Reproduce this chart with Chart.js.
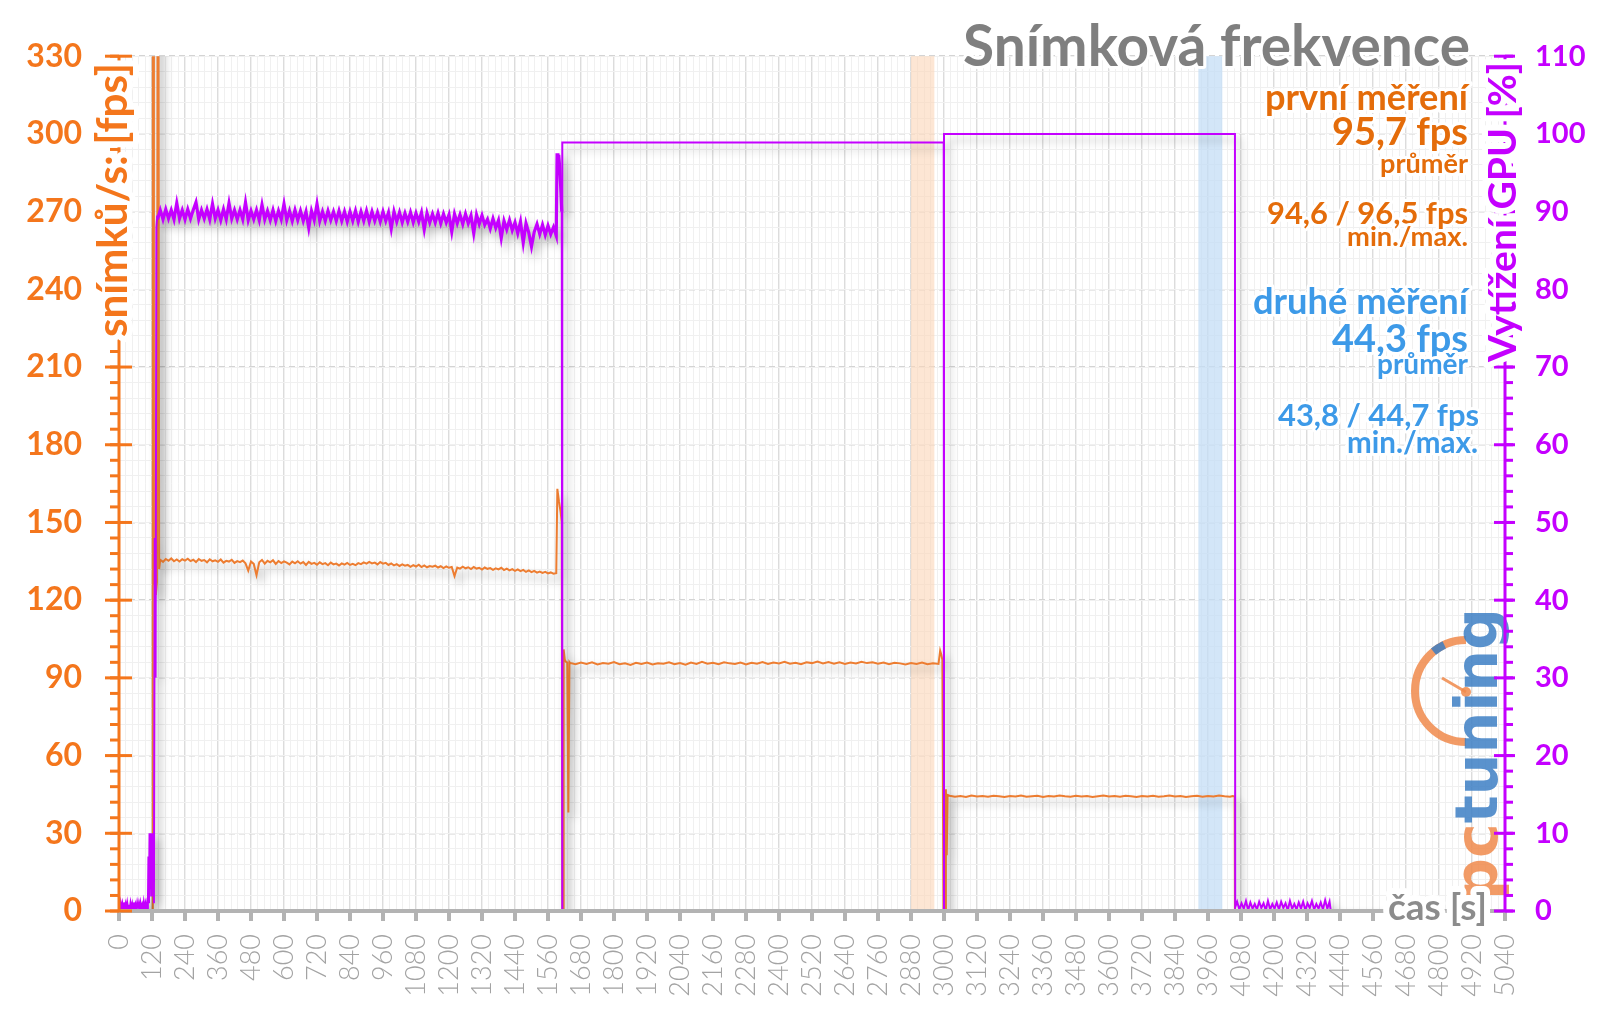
<!DOCTYPE html>
<html lang="cs">
<head>
<meta charset="utf-8">
<title>Snímková frekvence</title>
<script src="https://cdn.jsdelivr.net/npm/chart.js@4.4.1/dist/chart.umd.min.js"></script>
<style>
  html, body { margin: 0; padding: 0; background: #fff; }
  canvas { display: block; }
</style>
</head>
<body>
<canvas id="fpsChart" width="1600" height="1010"></canvas>
<script>
// time in seconds on x, fps on the left axis, GPU load [%] on the right axis
const timeMax = 5040;
const fpsMax = 330;
const gpuMax = 110;

// averaged windows of the two measurements (s)
const run1Window = [2880, 2965];
const run2Window = [3925, 4012];

// [average, min, max] fps
const run1Stats = [95.7, 94.6, 96.5];
const run2Stats = [44.3, 43.8, 44.7];

// ---------- GPU load [%] ----------
// idle at start, logged every 3 s from 0 s
const gpuIdle = [0.8, 0.2, 1.0, 0.3, 0.9, 0.1, 1.1, 0.4, 0.9, 0.2, 1.0, 0.3, 0.8, 0.1, 1.0, 0.4, 0.9, 0.2,
  1.1, 0.3, 0.8, 0.2, 1.0, 0.3, 0.9, 0.1, 1.0, 0.4, 0.8, 0.2, 1.1, 0.3, 0.9, 0.2, 1.0];
const gpuRampTime = [105, 107, 109, 111, 113, 115, 117, 119, 121, 123, 125, 127, 130, 133, 136, 139];
const gpuRamp = [0.5, 7, 1, 10, 3, 10, 2, 8, 10, 4, 10, 1, 48, 30, 88, 89.5];
// first scene, logged every 10 s from 140 s
const gpuRun1 = [
  89.0, 90.2, 89.0, 90.3, 89.1, 90.2, 89.0, 91.1, 89.1, 90.2,
  89.0, 90.3, 89.1, 90.2, 91.2, 89.0, 90.2, 89.1, 90.3, 89.0,
  91.0, 89.1, 90.2, 88.9, 90.3, 89.0, 91.1, 89.1, 90.2, 89.0,
  90.2, 89.0, 91.2, 88.9, 90.1, 89.0, 90.2, 88.9, 90.9, 89.0,
  90.1, 88.9, 90.2, 88.8, 90.1, 89.0, 91.0, 88.9, 90.1, 88.8,
  90.2, 88.9, 90.1, 88.8, 90.0, 87.9, 90.1, 88.9, 91.0, 88.8,
  90.0, 88.8, 90.1, 88.9, 90.0, 88.8, 90.1, 88.8, 90.0, 88.7,
  90.0, 88.8, 90.1, 88.7, 90.0, 88.8, 90.1, 88.7, 90.0, 88.8,
  89.9, 88.7, 90.0, 88.8, 89.9, 87.8, 90.0, 88.7, 89.9, 88.6,
  89.8, 88.7, 89.9, 88.6, 89.8, 88.7, 89.9, 87.7, 89.8, 88.6,
  89.7, 88.6, 89.8, 88.5, 89.7, 88.6, 89.6, 87.4, 89.7, 88.5,
  89.6, 88.4, 89.7, 88.5, 89.5, 87.2, 89.6, 88.4, 89.5, 88.3,
  89.0, 87.8, 89.1, 87.9, 88.9, 86.6, 88.8, 87.7, 88.9, 87.6,
  88.6, 87.2, 88.7, 86.0, 88.5, 87.3, 85.5, 87.4, 88.4, 87.1,
  88.3, 87.0, 88.2, 87.1, 88.0, 86.9];
const gpuSwitchTime = [1593, 1596, 1599, 1603, 1607, 1610, 1612, 1612, 2999, 3000, 3000, 4058, 4059];
const gpuSwitch = [97.5, 95.8, 97.3, 95.5, 92.5, 90, 0, 98.9, 98.9, 0, 100, 100, 0.5];
// idle after the test, logged every 8 s from 4066 s
const gpuTail = [1.2, 0.2, 1.0, 0.3, 1.3, 0.1, 1.1, 0.3, 0.9, 0.2, 1.2, 0.4, 1.0, 0.1, 1.3, 0.2, 0.9, 0.3,
  1.1, 0.2, 1.2, 0.4, 1.0, 0.1, 1.3, 0.3, 0.9, 0.2, 1.1, 0.3, 1.2, 0.1, 1.0, 0.4, 1.3, 0.2, 0.9, 0.3,
  1.1, 0.2, 1.4, 0.3, 1.2];
const gpuEndTime = [4406, 4597];
const gpuEnd = [0.1, 0.1];

// ---------- frame rate [fps] ----------
const fpsRampTime = [0, 118, 121, 123, 125, 127, 130, 134, 138, 141, 143, 146];
const fpsRamp = [0, 0, 0, 420, 420, 126, 128, 122, 127, 420, 420, 132];
// first scene, logged every 10 s from 150 s
const fpsRun1 = [
  135.6, 134.8, 135.9, 135.2, 136.1, 135.0, 135.7, 134.9, 135.8, 135.3,
  136.0, 135.1, 135.6, 134.7, 135.9, 135.2, 135.5, 134.6, 135.8, 135.0,
  135.4, 134.8, 135.7, 134.5, 135.2, 134.9, 135.6, 134.4, 135.1, 134.7,
  135.3, 134.2, 131.4, 134.9, 134.0, 129.6, 134.6, 135.5, 134.1, 135.2,
  134.6, 135.4, 134.0, 135.1, 134.3, 135.0, 134.5, 133.8, 134.9, 134.2,
  135.0, 134.1, 134.7, 133.6, 134.8, 134.0, 134.4, 133.7, 134.6, 133.9,
  134.3, 133.5, 134.5, 133.8, 134.1, 133.4, 134.2, 133.7, 134.4, 133.6,
  134.0, 133.5, 134.3, 133.9, 134.6, 134.1, 134.8, 134.2, 134.5, 133.8,
  134.7, 134.1, 134.4, 133.6, 134.2, 133.4, 133.9, 133.2, 133.8, 133.3,
  133.6, 132.9, 133.5, 133.0, 133.7, 132.8, 133.4, 132.7, 133.2, 132.9,
  133.3, 132.6, 133.1, 132.4, 133.0, 132.5, 132.8, 129.3, 132.6, 132.2,
  132.9, 132.3, 132.7, 132.0, 132.8, 132.2, 132.5, 131.8, 132.6, 132.1,
  132.4, 131.7, 132.3, 131.9, 132.5, 131.6, 132.2, 131.5, 132.0, 131.3,
  131.9, 131.2, 131.7, 130.9, 131.5, 130.8, 131.3, 130.6, 131.0, 130.5,
  130.9, 130.3, 130.7, 130.2, 130.4];
const fpsSwitch1Time = [1594, 1600, 1606, 1610, 1612, 1615, 1617, 1621, 1625, 1630, 1634, 1638];
const fpsSwitch1 = [163, 158, 154, 150, 0, 0, 101, 97, 96.2, 96.0, 38, 96.1];
// first measurement, logged every 20 s from 1640 s
const fpsRun2 = [
  95.8, 95.3, 95.9, 95.4, 96.0, 95.2, 95.7, 95.5, 96.1, 95.3,
  95.6, 95.0, 95.8, 95.4, 95.9, 95.2, 95.6, 95.5, 96.0, 95.3,
  95.7, 95.1, 95.9, 95.4, 96.2, 95.5, 95.8, 95.3, 96.0, 95.6,
  95.4, 95.9, 95.2, 95.8, 95.5, 96.1, 95.4, 95.9, 95.6, 96.2,
  95.5, 95.8, 95.3, 96.0, 95.7, 96.3, 95.6, 96.1, 95.5, 96.0,
  95.4, 95.9, 95.6, 96.2, 95.7, 96.0, 95.5, 95.9, 95.3, 95.8,
  95.6, 95.2, 95.7, 95.4, 95.9, 95.3, 95.6, 95.4];
const fpsSwitch2Time = [2986, 2990, 2994, 2998, 3004, 3007, 3010, 3013];
const fpsSwitch2 = [100.5, 99, 97, 0, 0, 47, 21.5, 44.8];
// second measurement, logged every 20 s from 3020 s
const fpsRun3 = [
  44.5, 44.1, 44.4, 44.0, 44.6, 44.2, 44.4, 44.1, 44.5, 44.3,
  44.0, 44.4, 44.2, 44.6, 44.1, 44.3, 44.5, 44.0, 44.4, 44.2,
  44.6, 44.3, 44.1, 44.5, 44.2, 44.4, 44.0, 44.3, 44.6, 44.2,
  44.4, 44.1, 44.5, 44.3, 44.0, 44.4, 44.2, 44.5, 44.1, 44.3,
  44.6, 44.2, 44.4, 44.0, 44.3, 44.5, 44.1, 44.4, 44.2, 44.6,
  44.3, 44.1];
const fpsEndTime = [4050, 4057, 4058, 4590];
const fpsEnd = [44.4, 44.2, 0, 0];

// colours
const ORANGE_LINE = '#ed7d31';
const ORANGE_AXIS = '#f4761c';
const ORANGE_TEXT = '#e46c0a';
const PURPLE = '#c400ff';
const BLUE_TEXT = '#3d9ae8';
const GREY_TEXT = '#7f7f7f';
const BAND_COLORS = ['rgba(251, 214, 184, 0.6)', 'rgba(196, 221, 245, 0.75)'];

function pairs(times, values) {
  return values.map((v, i) => ({ x: times[i], y: v }));
}
function logged(start, step, values) {
  return values.map((v, i) => ({ x: start + i * step, y: v }));
}

const gpuData = [
  ...logged(0, 3, gpuIdle),
  ...pairs(gpuRampTime, gpuRamp),
  ...logged(140, 10, gpuRun1),
  ...pairs(gpuSwitchTime, gpuSwitch),
  ...logged(4066, 8, gpuTail),
  ...pairs(gpuEndTime, gpuEnd),
];
const fpsData = [
  ...pairs(fpsRampTime, fpsRamp),
  ...logged(150, 10, fpsRun1),
  ...pairs(fpsSwitch1Time, fpsSwitch1),
  ...logged(1640, 20, fpsRun2),
  ...pairs(fpsSwitch2Time, fpsSwitch2),
  ...logged(3020, 20, fpsRun3),
  ...pairs(fpsEndTime, fpsEnd),
];

const fmt = v => v.toFixed(1).replace('.', ',');

function seg(ctx, x0, y0, x1, y1) {
  ctx.beginPath();
  ctx.moveTo(x0, y0);
  ctx.lineTo(x1, y1);
  ctx.stroke();
}

// sets the font so that the text gets the given width
function fitFont(ctx, text, width, family, weight) {
  ctx.font = `${weight} 100px ${family}`;
  const w = ctx.measureText(text).width;
  ctx.font = `${weight} ${(100 * width / w).toFixed(2)}px ${family}`;
}

function haloText(ctx, text, x, y, color, halo) {
  if (halo) {
    ctx.lineJoin = 'round';
    ctx.strokeStyle = '#fff';
    ctx.lineWidth = halo;
    ctx.strokeText(text, x, y);
  }
  ctx.fillStyle = color;
  ctx.fillText(text, x, y);
}

function drawLogo(ctx) {
  ctx.save();
  ctx.globalAlpha = 0.85;
  // gauge
  ctx.strokeStyle = '#f08a4b';
  ctx.lineWidth = 8;
  ctx.beginPath();
  ctx.arc(1466, 691, 51, -Math.PI / 2, Math.PI / 2, true);
  ctx.stroke();
  ctx.strokeStyle = '#3d7fc4';
  ctx.beginPath();
  ctx.arc(1466, 691, 51, -Math.PI * 0.72, -Math.PI * 0.64);
  ctx.stroke();
  ctx.strokeStyle = '#f08a4b';
  ctx.lineWidth = 3;
  seg(ctx, 1466, 692, 1442, 678);
  ctx.fillStyle = '#f08a4b';
  ctx.beginPath();
  ctx.arc(1466, 692, 5, 0, Math.PI * 2);
  ctx.fill();
  // word mark
  ctx.translate(1497, 900);
  ctx.rotate(-Math.PI / 2);
  fitFont(ctx, 'pctuning', 292, '"DejaVu Sans"', 'bold');
  ctx.textAlign = 'left';
  ctx.textBaseline = 'alphabetic';
  ctx.fillStyle = '#f08a4b';
  ctx.fillText('pc', 0, 0);
  const pcw = ctx.measureText('pc').width;
  ctx.fillStyle = '#3d7fc4';
  ctx.fillText('tuning', pcw, 0);
  ctx.restore();
}

const decor = {
  id: 'decor',
  beforeDatasetsDraw(chart) {
    const { ctx, chartArea: a, scales } = chart;
    ctx.save();
    [run1Window, run2Window].forEach((r, i) => {
      const x0 = scales.x.getPixelForValue(r[0]);
      const x1 = scales.x.getPixelForValue(r[1]);
      ctx.fillStyle = BAND_COLORS[i];
      ctx.fillRect(x0, a.top, x1 - x0, a.bottom - a.top);
    });
    ctx.restore();
    drawLogo(ctx);
  },
  beforeDatasetDraw(chart) {
    const ctx = chart.ctx;
    ctx.save();
    ctx.shadowColor = 'rgba(0, 0, 0, 0.3)';
    ctx.shadowBlur = 8;
    ctx.shadowOffsetX = 5;
    ctx.shadowOffsetY = 6;
  },
  afterDatasetDraw(chart) {
    chart.ctx.restore();
  },
  afterDatasetsDraw(chart) {
    const { ctx, chartArea: a, scales } = chart;
    ctx.save();
    ctx.lineCap = 'butt';

    // time axis
    ctx.strokeStyle = '#b3b3b3';
    ctx.lineWidth = 4;
    seg(ctx, a.left, a.bottom, a.right, a.bottom);
    scales.x.ticks.forEach(t => {
      const px = scales.x.getPixelForValue(t.value);
      seg(ctx, px, a.bottom, px, a.bottom + 10);
    });

    // fps axis
    ctx.strokeStyle = ORANGE_AXIS;
    ctx.lineWidth = 3;
    seg(ctx, a.left, a.top, a.left, a.bottom);
    scales.yMinor.ticks.forEach(t => {
      const py = scales.y.getPixelForValue(t.value);
      seg(ctx, a.left - 9, py, a.left, py);
    });
    scales.y.ticks.forEach(t => {
      const py = scales.y.getPixelForValue(t.value);
      seg(ctx, a.left - 14, py, a.left + 13, py);
    });

    // GPU axis
    ctx.strokeStyle = PURPLE;
    seg(ctx, a.right, a.top, a.right, a.bottom);
    scales.yMinor.ticks.forEach(t => {
      const py = scales.y.getPixelForValue(t.value);
      seg(ctx, a.right, py, a.right + 8, py);
    });
    scales.y1.ticks.forEach(t => {
      const py = scales.y1.getPixelForValue(t.value);
      seg(ctx, a.right - 11, py, a.right + 10, py);
    });

    // axis titles
    ctx.textAlign = 'left';
    ctx.textBaseline = 'middle';
    ctx.save();
    ctx.translate(113, 337);
    ctx.rotate(-Math.PI / 2);
    fitFont(ctx, 'snímků/s: [fps]', 274, 'Lato', 'bold');
    haloText(ctx, 'snímků/s: [fps]', 0, 0, ORANGE_AXIS, 12);
    ctx.restore();

    ctx.save();
    ctx.translate(1503, 362);
    ctx.rotate(-Math.PI / 2);
    fitFont(ctx, 'Vytížení GPU [%]', 300, 'Lato', 'bold');
    haloText(ctx, 'Vytížení GPU [%]', 0, 0, PURPLE, 12);
    ctx.restore();

    ctx.textAlign = 'right';
    ctx.textBaseline = 'alphabetic';
    fitFont(ctx, 'čas [s]', 99, 'Lato', 'bold');
    haloText(ctx, 'čas [s]', 1487, 920, '#8c8c8c', 12);

    // chart title
    fitFont(ctx, 'Snímková frekvence', 507, 'Lato', 'bold');
    haloText(ctx, 'Snímková frekvence', 1470, 66, GREY_TEXT, 6);

    // results
    const notes = [
      ['první měření', 1468, 110, 203, ORANGE_TEXT],
      [fmt(run1Stats[0]) + ' fps', 1468, 145, 136, ORANGE_TEXT],
      ['průměr', 1468, 173, 88, ORANGE_TEXT],
      [fmt(run1Stats[1]) + ' / ' + fmt(run1Stats[2]) + ' fps', 1468, 224, 201, ORANGE_TEXT],
      ['min./max.', 1468, 246, 121, ORANGE_TEXT],
      ['druhé měření', 1468, 314, 215, BLUE_TEXT],
      [fmt(run2Stats[0]) + ' fps', 1468, 352, 136, BLUE_TEXT],
      ['průměr', 1468, 374, 91, BLUE_TEXT],
      [fmt(run2Stats[1]) + ' / ' + fmt(run2Stats[2]) + ' fps', 1479, 426, 201, BLUE_TEXT],
      ['min./max.', 1478, 453, 131, BLUE_TEXT],
    ];
    notes.forEach(([text, x, y, w, color]) => {
      fitFont(ctx, text, w, 'Lato', 'bold');
      haloText(ctx, text, x, y, color, 6);
    });
    ctx.restore();
  }
};

// the dense, noisy part of the GPU log is drawn a bit heavier, like in the original
const noisyGpu = c => {
  const x0 = c.p0.parsed.x, x1 = c.p1.parsed.x;
  return x0 >= 140 && x1 <= 1610 ? 3.2 : undefined;
};

new Chart(document.getElementById('fpsChart'), {
  type: 'line',
  data: {
    datasets: [
      {
        label: 'Vytížení GPU',
        data: gpuData,
        xAxisID: 'x',
        yAxisID: 'y1',
        borderColor: PURPLE,
        borderWidth: 2,
        pointRadius: 0,
        tension: 0,
        segment: { borderWidth: noisyGpu },
      },
      {
        label: 'Snímková frekvence',
        data: fpsData,
        xAxisID: 'x',
        yAxisID: 'y',
        borderColor: ORANGE_LINE,
        borderWidth: 2,
        pointRadius: 0,
        tension: 0,
      },
    ],
  },
  options: {
    responsive: false,
    animation: false,
    layout: { padding: { top: 55, left: 0, right: 0, bottom: 0 } },
    plugins: {
      legend: { display: false },
      tooltip: { enabled: false },
    },
    scales: {
      x: {
        type: 'linear',
        position: 'bottom',
        min: 0,
        max: timeMax,
        ticks: {
          stepSize: 120,
          autoSkip: false,
          minRotation: 90,
          maxRotation: 90,
          padding: 23,
          color: '#a3a3a3',
          font: { family: 'Lato', size: 27, weight: '300' },
          callback: v => String(v),
        },
        grid: { color: '#dcdcdc', lineWidth: 1.5, drawTicks: false },
        border: { display: false },
        afterFit: s => { s.height = 99; },
      },
      xMinor: {
        type: 'linear',
        axis: 'x',
        position: 'bottom',
        min: 0,
        max: timeMax,
        z: -1,
        ticks: { stepSize: 24, display: false },
        grid: { color: '#f0f0f0', lineWidth: 1, drawTicks: false },
        border: { display: false },
        afterFit: s => { s.height = 0; },
      },
      y: {
        type: 'linear',
        position: 'left',
        min: 0,
        max: fpsMax,
        ticks: {
          stepSize: 30,
          padding: 37,
          color: ORANGE_AXIS,
          font: { family: 'Lato', size: 32, weight: 'bold' },
        },
        grid: { color: '#d4d4d4', lineWidth: 1.5, drawTicks: false },
        border: { display: false, dash: [6, 4] },
        afterFit: s => { s.width = 119; },
      },
      yMinor: {
        type: 'linear',
        axis: 'y',
        position: 'left',
        min: 0,
        max: fpsMax,
        z: -1,
        ticks: { stepSize: 6, display: false },
        grid: { color: '#f0f0f0', lineWidth: 1, drawTicks: false },
        border: { display: false },
        afterFit: s => { s.width = 0; },
      },
      y1: {
        type: 'linear',
        position: 'right',
        min: 0,
        max: gpuMax,
        ticks: {
          stepSize: 10,
          padding: 30,
          color: PURPLE,
          font: { family: 'Lato', size: 29, weight: 'bold' },
        },
        grid: { drawOnChartArea: false, drawTicks: false },
        border: { display: false },
        afterFit: s => { s.width = 95; },
      },
    },
  },
  plugins: [decor],
});
</script>
</body>
</html>
